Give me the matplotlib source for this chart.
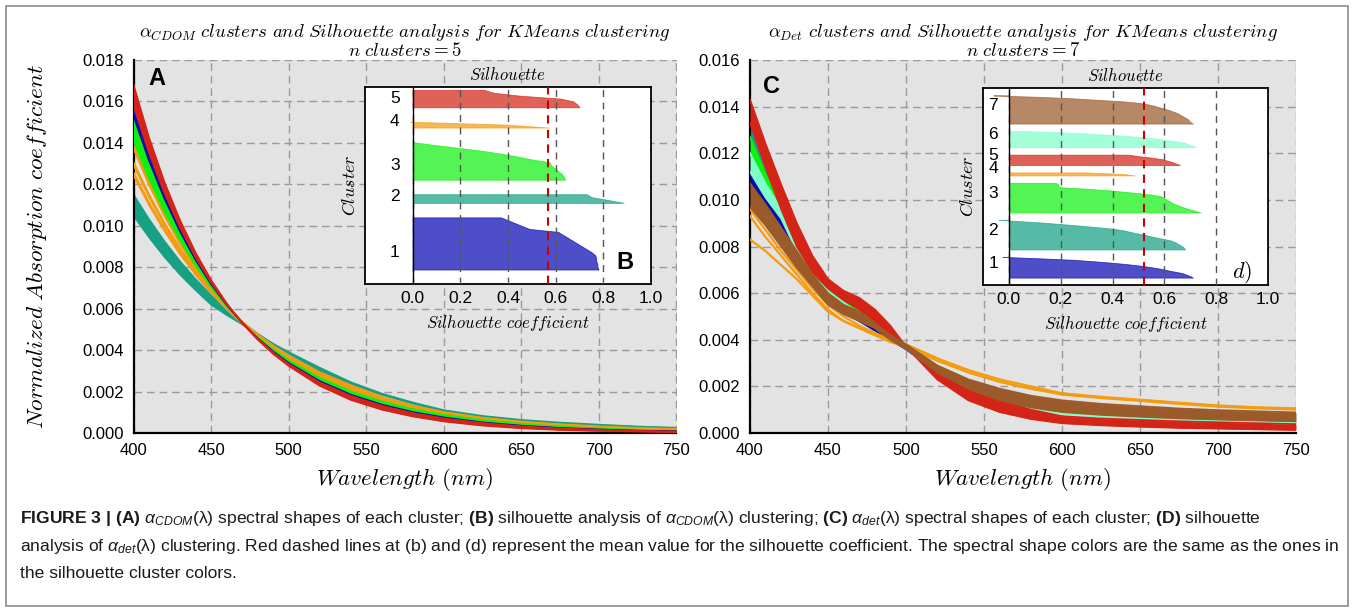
import numpy as np
import matplotlib
matplotlib.use("Agg")
import matplotlib.pyplot as plt
from matplotlib.patches import Rectangle
from matplotlib.ticker import FormatStrFormatter

plt.rcParams['font.family'] = ['Liberation Sans', 'DejaVu Sans']
plt.rcParams['mathtext.fontset'] = 'cm'
plt.rcParams['mathtext.rm'] = 'Liberation Sans'
plt.rcParams['mathtext.it'] = 'Liberation Sans:italic'
plt.rcParams['mathtext.bf'] = 'Liberation Sans:bold'

# ---------------- data ----------------
wavelength = [400, 410, 420, 430, 440, 450, 460, 470, 480, 490, 500, 520, 540,
              560, 580, 600, 625, 650, 675, 700, 725, 750]

# Panel A (CDOM) - each cluster drawn as a band between two edge spectra
cdom_red_a = [0.0168, 0.01425, 0.01209, 0.01026, 0.0087, 0.00738, 0.00626, 0.00531, 0.00451, 0.00382, 0.00324,
              0.00228, 0.00160, 0.00113, 0.00080, 0.00056, 0.00036, 0.00023, 0.00015, 0.0001, 0.00007, 0.00004]
cdom_red_b = [0.0158, 0.01352, 0.01157, 0.00991, 0.00848, 0.00726, 0.00621, 0.00532, 0.00455, 0.00389, 0.00333,
              0.00244, 0.00179, 0.00131, 0.00096, 0.0007, 0.00048, 0.00032, 0.00022, 0.00015, 0.0001, 0.00007]
cdom_blue_a = [0.0157, 0.01345, 0.01152, 0.00987, 0.00846, 0.00725, 0.00621, 0.00532, 0.00455, 0.0039, 0.00334,
               0.00245, 0.0018, 0.00132, 0.00097, 0.00071, 0.00048, 0.00033, 0.00022, 0.00015, 0.0001, 0.00007]
cdom_blue_b = [0.0153, 0.01315, 0.01131, 0.00973, 0.00836, 0.00719, 0.00619, 0.00532, 0.00457, 0.00393, 0.00338,
               0.0025, 0.00185, 0.00137, 0.00101, 0.00075, 0.00051, 0.00035, 0.00024, 0.00017, 0.00011, 0.00008]
cdom_green_a = [0.0153, 0.01315, 0.01131, 0.00973, 0.00836, 0.00719, 0.00619, 0.00532, 0.00457, 0.00393, 0.00338,
                0.0025, 0.00185, 0.00137, 0.00101, 0.00075, 0.00051, 0.00035, 0.00024, 0.00017, 0.00011, 0.00008]
cdom_green_b = [0.0141, 0.01227, 0.01068, 0.00929, 0.00808, 0.00703, 0.00612, 0.00533, 0.00463, 0.00403, 0.00351,
                0.00266, 0.00201, 0.00152, 0.00115, 0.00087, 0.00062, 0.00044, 0.00031, 0.00022, 0.00015, 0.00011]
cdom_orange_1 = [0.0138, 0.01205, 0.01052, 0.00918, 0.00801, 0.00699, 0.0061, 0.00533, 0.00465, 0.00406, 0.00354,
                 0.0027, 0.00206, 0.00157, 0.00119, 0.00091, 0.00065, 0.00046, 0.00033, 0.00023, 0.00017, 0.00012]
cdom_orange_2 = [0.0130, 0.01145, 0.01008, 0.00887, 0.00781, 0.00688, 0.00606, 0.00533, 0.00469, 0.00413, 0.00364,
                 0.00282, 0.00219, 0.00163, 0.00124, 0.00094, 0.00068, 0.0005, 0.00037, 0.00027, 0.0002, 0.00015]
cdom_orange_3 = [0.0125, 0.01107, 0.0098, 0.00868, 0.00768, 0.0068, 0.00602, 0.00533, 0.00472, 0.00418, 0.0037,
                 0.0029, 0.00228, 0.00172, 0.0013, 0.00098, 0.00071, 0.00052, 0.00039, 0.00029, 0.00021, 0.00016]
cdom_teal_a = [0.0115, 0.01031, 0.00924, 0.00828, 0.00742, 0.00665, 0.00596, 0.00534, 0.00479, 0.00429, 0.00384,
               0.003, 0.00235, 0.00185, 0.00142, 0.00105, 0.00078, 0.0006, 0.00047, 0.00037, 0.00029, 0.00023]
cdom_teal_b = [0.0105, 0.00945, 0.0085, 0.00765, 0.0069, 0.0062, 0.0057, 0.00525, 0.00475, 0.0043, 0.0039,
               0.00315, 0.00245, 0.0019, 0.00147, 0.0011, 0.00082, 0.00063, 0.0005, 0.0004, 0.00031, 0.00025]

# Panel C (Detritus)
det_red_a = [0.0143, 0.0124, 0.01065, 0.0090, 0.0076, 0.0066, 0.0061, 0.0058, 0.0053, 0.0046, 0.0037,
             0.0023, 0.0014, 0.0009, 0.0006, 0.00042, 0.00033, 0.00027, 0.00022, 0.00019, 0.00016, 0.00013]
det_red_b = [0.0133, 0.0114, 0.0096, 0.0080, 0.0069, 0.0062, 0.0057, 0.0053, 0.0048, 0.0042, 0.0036,
             0.0027, 0.0019, 0.00140, 0.00100, 0.00072, 0.00062, 0.00056, 0.0005, 0.00046, 0.00042, 0.00038]
det_teal_a = [0.0132, 0.0114, 0.0097, 0.0083, 0.0071, 0.0062, 0.0057, 0.0053, 0.0048, 0.0042, 0.0037,
              0.0027, 0.0019, 0.0014, 0.0011, 0.00085, 0.00072, 0.00064, 0.00057, 0.00052, 0.00048, 0.00044]
det_teal_b = [0.0127, 0.0110, 0.0095, 0.0081, 0.0070, 0.0061, 0.0056, 0.0052, 0.0047, 0.0042, 0.0037,
              0.0027, 0.002, 0.0015, 0.00112, 0.00088, 0.00075, 0.00066, 0.0006, 0.00054, 0.0005, 0.00046]
det_green_a = [0.0127, 0.0111, 0.0097, 0.0082, 0.0071, 0.0062, 0.0057, 0.0052, 0.0047, 0.0042, 0.0037,
               0.0027, 0.002, 0.0015, 0.00112, 0.00088, 0.00075, 0.00066, 0.0006, 0.00054, 0.0005, 0.00046]
det_green_b = [0.0120, 0.0106, 0.0094, 0.0080, 0.0069, 0.0061, 0.0056, 0.0051, 0.0047, 0.0042, 0.0037,
               0.0027, 0.002, 0.0015, 0.00115, 0.0009, 0.00077, 0.00068, 0.00061, 0.00055, 0.00051, 0.00047]
det_aqua_a = [0.0120, 0.0107, 0.0096, 0.0081, 0.0070, 0.0061, 0.0056, 0.0051, 0.0046, 0.0041, 0.0037,
              0.0026, 0.0019, 0.0014, 0.00105, 0.00082, 0.0007, 0.00062, 0.00056, 0.00051, 0.00047, 0.00043]
det_aqua_b = [0.0112, 0.0101, 0.0092, 0.0078, 0.0067, 0.0059, 0.0054, 0.0050, 0.0046, 0.0041, 0.0037,
              0.0027, 0.0020, 0.00148, 0.00112, 0.00088, 0.00075, 0.00067, 0.0006, 0.00055, 0.00051, 0.00047]
det_blue_a = [0.0111, 0.0101, 0.0092, 0.0077, 0.0067, 0.0059, 0.0054, 0.0050, 0.0045, 0.0040, 0.0036,
              0.0027, 0.0020, 0.0015, 0.0012, 0.00095, 0.0008, 0.0007, 0.00062, 0.00056, 0.00052, 0.00048]
det_blue_b = [0.0107, 0.0098, 0.0089, 0.0075, 0.0065, 0.0057, 0.0052, 0.0048, 0.0044, 0.0040, 0.0036,
              0.0026, 0.0019, 0.0014, 0.0011, 0.0009, 0.00076, 0.00067, 0.0006, 0.00054, 0.0005, 0.00046]
det_brown_a = [0.0107, 0.0098, 0.0088, 0.0078, 0.0068, 0.0060, 0.0055, 0.0052, 0.0047, 0.0042, 0.0038,
               0.0029, 0.0023, 0.0019, 0.0016, 0.0014, 0.00125, 0.00115, 0.00105, 0.00098, 0.00093, 0.00088]
det_brown_b = [0.0097, 0.0089, 0.0080, 0.0071, 0.0063, 0.0055, 0.0051, 0.0048, 0.0045, 0.0040, 0.0036,
               0.0026, 0.0019, 0.0014, 0.0011, 0.0009, 0.00078, 0.0007, 0.00063, 0.00058, 0.00054, 0.0005]
det_orange_1 = [0.0096, 0.0087, 0.0078, 0.0070, 0.0062, 0.0055, 0.0050, 0.0046, 0.0043, 0.0040, 0.0038,
                0.0032, 0.0027, 0.0023, 0.0020, 0.0017, 0.00155, 0.00143, 0.0013, 0.00118, 0.0011, 0.00106]
det_orange_2 = [0.0093, 0.0084, 0.0076, 0.0068, 0.0060, 0.0053, 0.0048, 0.0045, 0.0042, 0.0039, 0.0037,
                0.0031, 0.0026, 0.0022, 0.0019, 0.00165, 0.0015, 0.00138, 0.00125, 0.00113, 0.00106, 0.001]
det_orange_3 = [0.0083, 0.0078, 0.0072, 0.0066, 0.0059, 0.0052, 0.0048, 0.0045, 0.0042, 0.0040, 0.0038,
                0.0032, 0.0026, 0.0022, 0.0019, 0.0017, 0.00152, 0.0014, 0.00128, 0.00116, 0.00108, 0.00103]

# Silhouette values per cluster (sorted, bottom -> top)
sil_b_clusters = [
    [0.78, 0.775, 0.775, 0.77, 0.77, 0.765, 0.75, 0.73, 0.71, 0.69, 0.67, 0.65, 0.63, 0.61,
     0.49, 0.46, 0.43, 0.40, 0.37],
    [0.885, 0.82, 0.75, 0.73],
    [0.64, 0.635, 0.625, 0.61, 0.595, 0.58, 0.575, 0.50, 0.44, 0.37, 0.29, 0.19, 0.09, 0.0],
    [0.57, 0.40, -0.01],
    [0.70, 0.69, 0.675, 0.62, 0.45, 0.34, 0.30],
]
sil_b_mean = 0.567

sil_d_clusters = [
    [0.71, 0.70, 0.685, 0.67, 0.64, 0.61, 0.585, 0.55, 0.51, 0.46, 0.40, 0.33, 0.25, 0.12, -0.025],
    [0.68, 0.675, 0.67, 0.66, 0.65, 0.64, 0.625, 0.60, 0.57, 0.545, 0.52, 0.49, 0.465, 0.44, 0.40,
     0.34, 0.28, 0.21, 0.14, 0.05, -0.04],
    [0.74, 0.72, 0.70, 0.68, 0.665, 0.65, 0.635, 0.625, 0.615, 0.605, 0.595, 0.585, 0.55, 0.50, 0.44,
     0.38, 0.30, 0.20, 0.19, 0.19, 0.18],
    [0.485, 0.44, 0.30],
    [0.66, 0.645, 0.63, 0.61, 0.59, 0.55, 0.50, 0.46],
    [0.72, 0.71, 0.69, 0.68, 0.64, 0.60, 0.56, 0.50, 0.42, 0.33, 0.22, 0.05],
    [0.71, 0.70, 0.695, 0.69, 0.68, 0.67, 0.66, 0.65, 0.635, 0.62, 0.60, 0.58, 0.56, 0.535, 0.50,
     0.44, 0.34, 0.25, 0.12, -0.06],
]
sil_d_mean = 0.52

x_ticks = [400, 450, 500, 550, 600, 650, 700, 750]
sil_ticks = [0.0, 0.2, 0.4, 0.6, 0.8, 1.0]

# colours
C_BLUE = '#0a0ab4'
C_TEAL = '#16a085'
C_GREEN = '#10f010'
C_ORANGE = '#f39c12'
C_RED = '#d42418'
C_AQUA = '#7fffc8'
C_BROWN = '#9b5a2a'

colors_b = [C_BLUE, C_TEAL, C_GREEN, C_ORANGE, C_RED]
colors_d = [C_BLUE, C_TEAL, C_GREEN, C_ORANGE, C_RED, C_AQUA, C_BROWN]

# ---------------- figure ----------------
W, H = 1354, 610
fig = plt.figure(figsize=(W / 100, H / 100), dpi=100)
fig.patch.set_facecolor('white')


def px_axes(x0, y0, x1, y1):
    return fig.add_axes([x0 / W, 1 - y1 / H, (x1 - x0) / W, (y1 - y0) / H])


GRID_DASH = (0, (5.5, 3.5))


def style_main(ax, ymax):
    ax.set_facecolor('#e3e3e3')
    ax.set_xlim(400, 750)
    ax.set_ylim(0, ymax)
    ax.set_xticks(x_ticks)
    ax.set_yticks(np.arange(0, ymax + 1e-9, 0.002))
    ax.yaxis.set_major_formatter(FormatStrFormatter('%.3f'))
    ax.grid(True, color='#9a9a9a', linestyle=GRID_DASH, linewidth=1.0)
    ax.set_axisbelow(True)
    for s in ['top', 'right']:
        ax.spines[s].set_visible(False)
    for s in ['left', 'bottom']:
        ax.spines[s].set_color('black')
        ax.spines[s].set_linewidth(1.6)
    ax.tick_params(length=0, labelsize=12, pad=7)
    ax.set_xlabel(r'$Wavelength\ (nm)$', fontsize=16.5, labelpad=6)


def band(ax, a, b, color, z):
    ax.fill_between(wavelength, a, b, color=color, lw=0, zorder=z)
    ax.plot(wavelength, a, color=color, lw=1.3, zorder=z)
    ax.plot(wavelength, b, color=color, lw=1.3, zorder=z)


def style_inset(ax, xmin):
    ax.set_facecolor('white')
    ax.set_xlim(xmin, 1.0)
    ax.set_xticks(sil_ticks)
    ax.set_yticks([])
    ax.tick_params(length=0, labelsize=12.5, pad=5)
    for s in ax.spines.values():
        s.set_color('black')
        s.set_linewidth(1.3)
    ax.grid(True, axis='x', color='#555555', linestyle=(0, (5, 4)), linewidth=1.0)
    ax.set_axisbelow(False)
    ax.axvline(0, color='black', lw=1.0, zorder=3)
    ax.set_title(r'$Silhouette$', fontsize=12, pad=5)
    ax.set_xlabel(r'$Silhouette\ coefficient$', fontsize=12, labelpad=5)
    ax.set_ylabel(r'$Cluster$', fontsize=13, labelpad=4)


def silhouette(ax, clusters, colors, bottom, gap, top_pad, lab_frac, lab_off, lab_x):
    y_lower = bottom
    for i, (vals, col) in enumerate(zip(clusters, colors)):
        n = len(vals)
        y = y_lower + np.arange(n)
        ax.fill_betweenx(y, 0, vals, facecolor=col, edgecolor=col, alpha=0.72, lw=0.6, zorder=1)
        ax.text(lab_x, y_lower + lab_frac * (n - 1) + lab_off, str(i + 1), ha='center', va='center',
                fontsize=12.5)
        y_lower = y_lower + n + gap
    ax.set_ylim(0, y_lower - gap + top_pad)


# ----- Panel A -----
axA = px_axes(133.5, 60, 676.5, 433)
style_main(axA, 0.018)
band(axA, cdom_teal_a, cdom_teal_b, C_TEAL, 2)
for o in (cdom_orange_1, cdom_orange_2, cdom_orange_3):
    axA.plot(wavelength, o, color=C_ORANGE, lw=2.2, zorder=3)
band(axA, cdom_green_a, cdom_green_b, C_GREEN, 4)
band(axA, cdom_blue_a, cdom_blue_b, C_BLUE, 5)
band(axA, cdom_red_a, cdom_red_b, C_RED, 6)
axA.set_ylabel(r'$Normalized\ Absorption\ coefficient$', fontsize=16.8, labelpad=24)
axA.set_title(r'$\alpha_{CDOM}\ clusters\ and\ Silhouette\ analysis\ for\ KMeans\ clustering$' + '\n'
              + r'$n\ clusters=5$', fontsize=13.5, pad=2, linespacing=0.95)
axA.text(0.027, 0.982, 'A', transform=axA.transAxes, fontsize=17, fontweight='bold', ha='left', va='top')

# ----- Panel C -----
axC = px_axes(750, 60, 1296, 433)
style_main(axC, 0.016)
band(axC, det_teal_a, det_teal_b, C_TEAL, 2)
band(axC, det_green_a, det_green_b, C_GREEN, 3)
band(axC, det_blue_a, det_blue_b, C_BLUE, 4)
band(axC, det_aqua_a, det_aqua_b, C_AQUA, 5)
band(axC, det_red_a, det_red_b, C_RED, 6)
for o in (det_orange_1, det_orange_2, det_orange_3):
    axC.plot(wavelength, o, color=C_ORANGE, lw=1.6, zorder=7)
band(axC, det_brown_a, det_brown_b, C_BROWN, 8)
axC.set_title(r'$\alpha_{Det}\ clusters\ and\ Silhouette\ analysis\ for\ KMeans\ clustering$' + '\n'
              + r'$n\ clusters=7$', fontsize=13.5, pad=2, linespacing=0.95)
axC.text(0.024, 0.96, 'C', transform=axC.transAxes, fontsize=17, fontweight='bold', ha='left', va='top')

# ----- Inset B -----
axB = px_axes(365, 87, 651, 284)
style_inset(axB, -0.2)
silhouette(axB, sil_b_clusters, colors_b, 5, 4, 0, 0.25, 1.5, -0.075)
axB.axvline(sil_b_mean, color='#cc0000', linestyle=(0, (4, 3)), lw=1.5, zorder=4)
axB.text(0.88, 0.05, 'B', transform=axB.transAxes, fontsize=17, fontweight='bold', ha='left', va='bottom')

# ----- Inset D -----
axD = px_axes(983, 88, 1268, 285)
style_inset(axD, -0.1)
silhouette(axD, sil_d_clusters, colors_d, 5, 4, 4, 0.45, 3.5, -0.06)
axD.axvline(sil_d_mean, color='#cc0000', linestyle=(0, (4, 3)), lw=1.5, zorder=4)
axD.text(0.875, 0.0, r'$d)$', transform=axD.transAxes, fontsize=16, ha='left', va='bottom')

# ----- caption -----
cap_kw = dict(fontsize=12.6, ha='left', va='baseline', math_fontfamily='custom', color='#1a1a1a')
fig.text(20 / W, 1 - 523 / H,
         r'$\mathbf{FIGURE\ 3\ |\ (A)}$ $\mathit{\alpha_{CDOM}}$(λ) spectral shapes of each cluster; '
         r'$\mathbf{(B)}$ silhouette analysis of $\mathit{\alpha_{CDOM}}$(λ) clustering; '
         r'$\mathbf{(C)}$ $\mathit{\alpha_{det}}$(λ) spectral shapes of each cluster; $\mathbf{(D)}$ silhouette',
         **cap_kw)
fig.text(20 / W, 1 - 551 / H,
         r'analysis of $\mathit{\alpha_{det}}$(λ) clustering. Red dashed lines at (b) and (d) represent the mean '
         r'value for the silhouette coefficient. The spectral shape colors are the same as the ones in',
         **cap_kw)
fig.text(20 / W, 1 - 578 / H, 'the silhouette cluster colors.', **cap_kw)

fig.add_artist(Rectangle((6 / W, 4 / H), (W - 12) / W, (H - 10) / H, transform=fig.transFigure,
                         fill=False, edgecolor='#8a8a8a', lw=1.2))

fig.savefig('out.png', dpi=100)
